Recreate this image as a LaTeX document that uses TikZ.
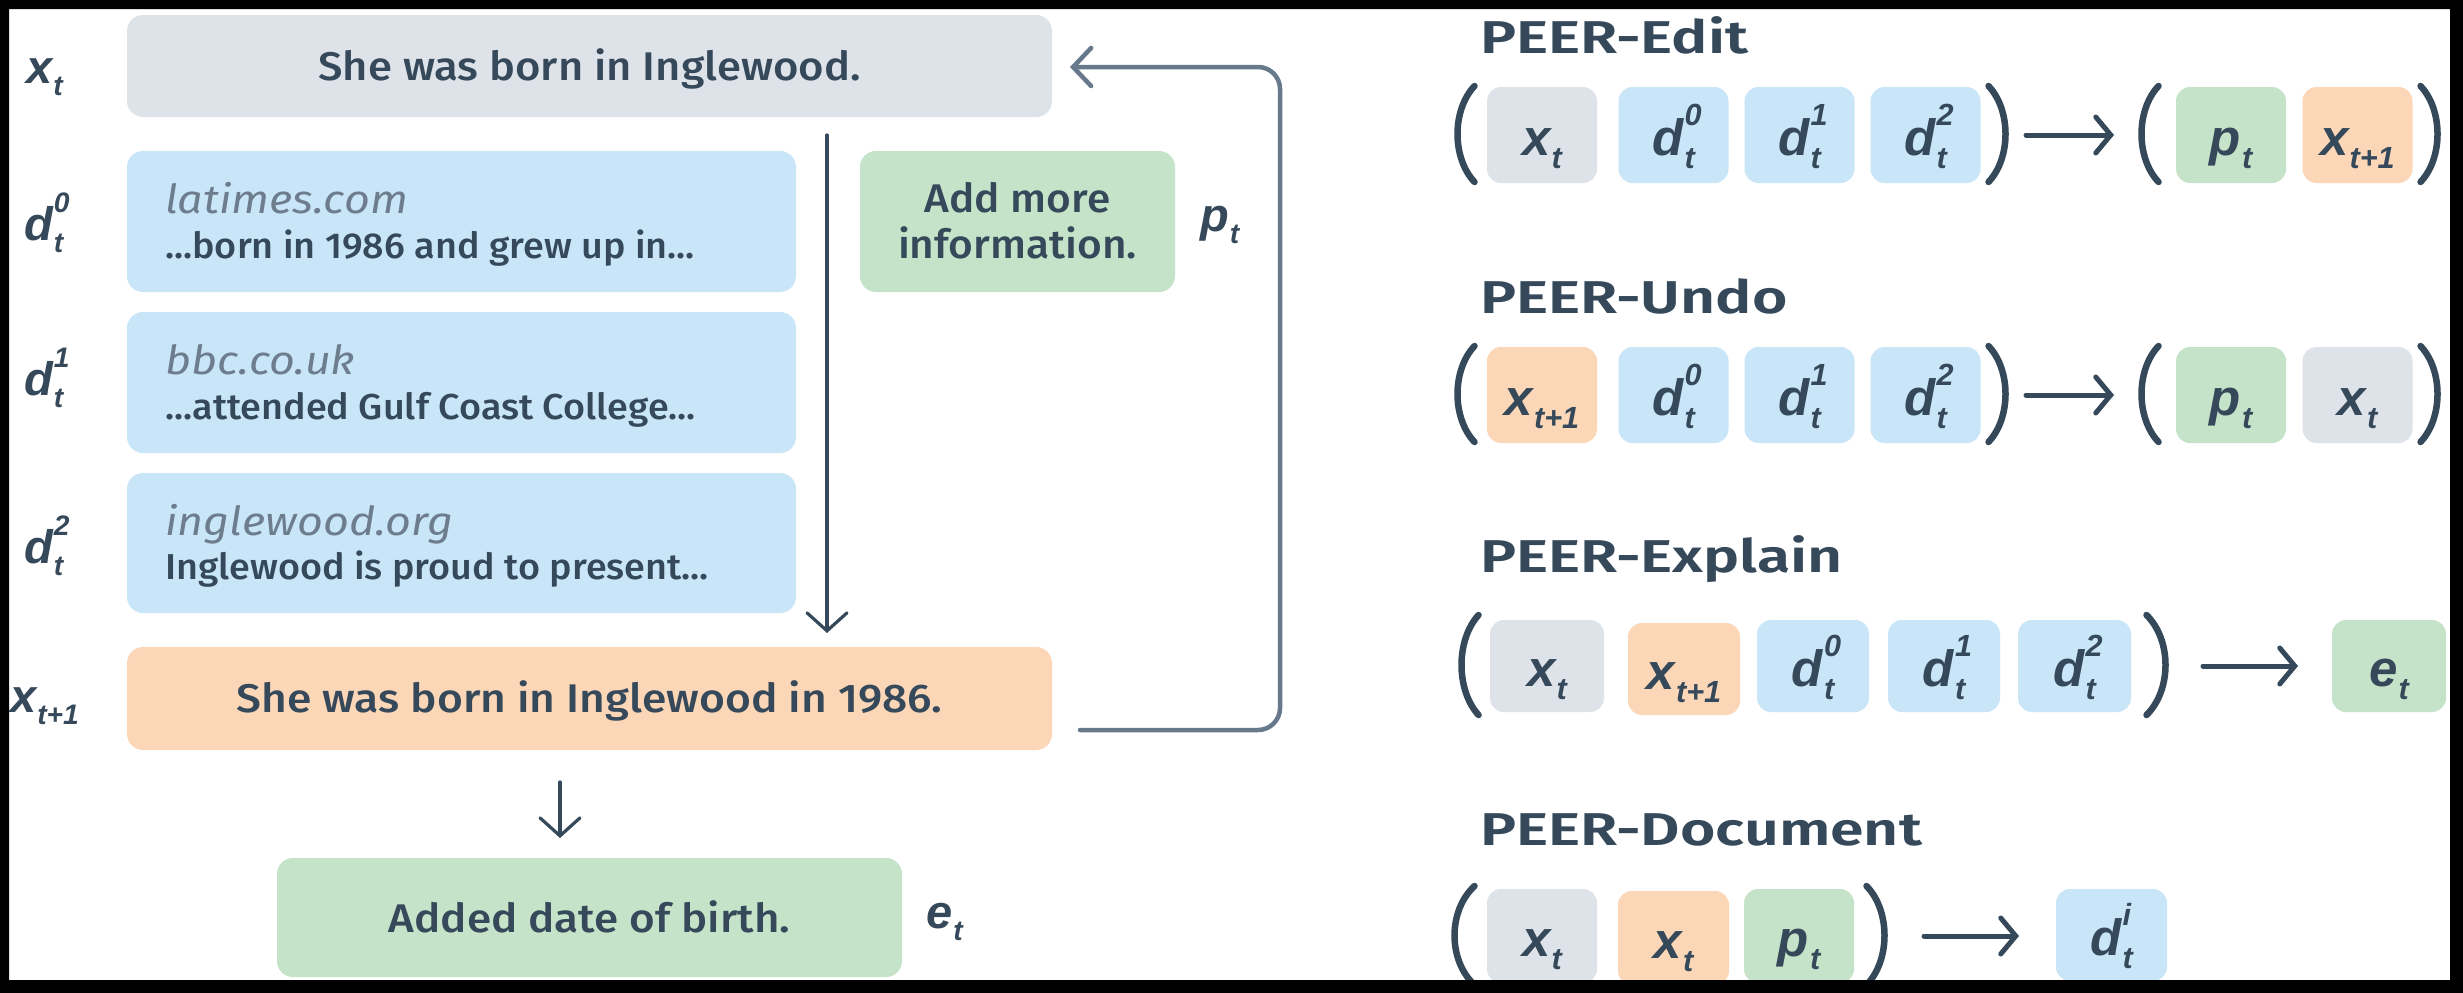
\documentclass[tikz,border=0pt]{standalone}
\usepackage{fontspec}
\usetikzlibrary{arrows.meta}
\setmainfont{Fira Sans}
\IfFontExistsTF{Fira Sans Medium}{\newfontfamily\bodyf{Fira Sans Medium}}{\newfontfamily\bodyf{Fira Sans}}
\newfontfamily\urlf{Fira Sans}
\IfFontExistsTF{Fira Sans SemiBold}{\newfontfamily\titlefa{Fira Sans SemiBold}\newcommand\titlef{\titlefa}}{\newcommand\titlef{\urlf\bfseries}}
\newfontfamily\symf{Liberation Sans}
\definecolor{ink}{HTML}{35495A}
\definecolor{urlc}{HTML}{6E7D8D}
\definecolor{loopc}{HTML}{67798B}
\definecolor{cgray}{HTML}{DEE3EA}
\definecolor{cblue}{HTML}{C9E6F9}
\definecolor{cgreen}{HTML}{C5E3C9}
\definecolor{corange}{HTML}{FBD7B8}
\newcommand\mysym[3]{{\symf\bfseries\itshape #1\kern0.02em\rlap{\raisebox{0.58em}{\scalebox{0.6}{#3}}}\raisebox{-0.26em}{\scalebox{0.6}{#2}}}}
\newcommand\wide[2]{\scalebox{#1}[1]{#2}}
\newcommand\lpar[4]{\draw[paren] ({#2-3.5},#3) .. controls ({#2-3.5-(#2-#1-7)/0.75},{#3+0.25*(#4-#3)}) and ({#2-3.5-(#2-#1-7)/0.75},{#4-0.25*(#4-#3)}) .. ({#2-3.5},#4);}
\newcommand\rpar[4]{\draw[paren] ({#1+3.5},#3) .. controls ({#1+3.5+(#2-#1-7)/0.75},{#3+0.25*(#4-#3)}) and ({#1+3.5+(#2-#1-7)/0.75},{#4-0.25*(#4-#3)}) .. ({#1+3.5},#4);}
\tikzset{
  lbox/.style={rounded corners=16pt, inner sep=0pt, draw=none},
  sbox/.style={rounded corners=14pt, inner sep=0pt, minimum width=110pt, minimum height=96pt,
     text height=40pt, text depth=0pt, text=ink, font=\fontsize{51}{54}\selectfont},
  lab/.style={inner sep=0pt, text=ink, font=\fontsize{47}{50}\selectfont},
  bodytxt/.style={inner sep=0pt, text=ink, font=\bodyf\fontsize{40}{46}\selectfont},
  doctxt/.style={inner sep=0pt, text=ink, font=\bodyf\fontsize{36}{44}\selectfont},
  urltxt/.style={inner sep=0pt, text=urlc, font=\urlf\itshape\fontsize{40}{46}\selectfont},
  ttl/.style={inner sep=0pt, text=ink, font=\titlef\fontsize{46}{50}\selectfont},
  paren/.style={draw=ink, line width=6.5pt, line cap=round},
  rarrow/.style={draw=ink, line width=5pt, line cap=round, -{Straight Barb[length=15pt,width=36pt,line cap=round]}},
  varrow/.style={draw=ink, line width=3.2pt, line cap=round, -{Straight Barb[length=18pt,width=40pt,line cap=round]}},
  fbarrow/.style={draw=loopc, line width=4.5pt, line cap=round, rounded corners=22pt, -{Straight Barb[length=18pt,width=38pt,line cap=round]}},
}
\begin{document}
\begin{tikzpicture}[x=1pt,y=-1pt]
\useasboundingbox (0,0) rectangle (2463,993);
\fill[white] (0,0) rectangle (2463,993);

% ---------- left panel ----------
\node[lbox, fill=cgray, minimum width=925pt, minimum height=102pt] (top) at (589.5,66) {};
\node[bodytxt, anchor=base] (toptxt) at (589.5,80) {\wide{1.09}{She was born in Inglewood.}};

\node[lbox, fill=cblue, minimum width=669pt, minimum height=141pt] (d0) at (461.5,221.5) {};
\node[urltxt, anchor=base west] (d0url) at (165,213) {\wide{1.12}{latimes.com}};
\node[doctxt, anchor=base west] (d0txt) at (165,258) {\wide{1.05}{...born in 1986 and grew up in...}};

\node[lbox, fill=cblue, minimum width=669pt, minimum height=141pt] (d1) at (461.5,382.5) {};
\node[urltxt, anchor=base west] (d1url) at (165,374) {\wide{1.12}{bbc.co.uk}};
\node[doctxt, anchor=base west] (d1txt) at (165,419) {\wide{1.05}{...attended Gulf Coast College...}};

\node[lbox, fill=cblue, minimum width=669pt, minimum height=140pt] (d2) at (461.5,543) {};
\node[urltxt, anchor=base west] (d2url) at (165,535) {\wide{1.12}{inglewood.org}};
\node[doctxt, anchor=base west] (d2txt) at (165,579) {\wide{1.05}{Inglewood is proud to present...}};

\node[lbox, fill=cgreen, minimum width=315pt, minimum height=141pt] (add) at (1017.5,221.5) {};
\node[bodytxt, anchor=base] (addtxt1) at (1017.5,212) {\wide{1.06}{Add more}};
\node[bodytxt, anchor=base] (addtxt2) at (1017.5,258) {\wide{1.06}{information.}};

\node[lbox, fill=corange, minimum width=925pt, minimum height=103pt] (xt1) at (589.5,698.5) {};
\node[bodytxt, anchor=base] (xt1txt) at (589.5,712) {\wide{1.11}{She was born in Inglewood in 1986.}};

\node[lbox, fill=cgreen, minimum width=625pt, minimum height=119pt] (et) at (589.5,917.5) {};
\node[bodytxt, anchor=base] (ettxt) at (589.5,932) {\wide{1.1}{Added date of birth.}};

% left labels
\node[lab, anchor=base west] (lxt) at (26,83) {\mysym{x}{t}{}};
\node[lab, anchor=base west] (ld0) at (24,240) {\mysym{d}{t}{0}};
\node[lab, anchor=base west] (ld1) at (24,395) {\mysym{d}{t}{1}};
\node[lab, anchor=base west] (ld2) at (24,563) {\mysym{d}{t}{2}};
\node[lab, anchor=base west] (lxt1) at (10,712) {\mysym{x}{t+1}{}};
\node[lab, anchor=base west] (lpt) at (1200,231) {\mysym{p}{t}{}};
\node[lab, anchor=base west] (let) at (926,928) {\mysym{e}{t}{}};

% arrows
\coordinate (va1) at (827,135);
\coordinate (va2) at (827,633);
\draw[varrow] (va1) -- (va2);
\coordinate (ea1) at (560,782);
\coordinate (ea2) at (560,838);
\draw[varrow] (ea1) -- (ea2);
\coordinate (fb1) at (1080,730);
\coordinate (fbc) at (1280,400);
\coordinate (fb2) at (1070,67);
\draw[fbarrow] (fb1) -| (fbc) |- (fb2);

% ---------- right panel ----------
\node[ttl, anchor=base west] (t1) at (1480,53) {\wide{1.32}{PEER-Edit}};
\node[ttl, anchor=base west] (t2) at (1480,313) {\wide{1.32}{PEER-Undo}};
\node[ttl, anchor=base west] (t3) at (1480,572) {\wide{1.32}{PEER-Explain}};
\node[ttl, anchor=base west] (t4) at (1480,845) {\wide{1.32}{PEER-Document}};

% row 1
\lpar{1454}{1478}{86}{182}
\node[sbox, fill=cgray] (r1a) at (1542,135) {\mysym{x}{t}{}};
\node[sbox, fill=cblue] (r1b) at (1673.5,135) {\mysym{d}{t}{0}};
\node[sbox, fill=cblue] (r1c) at (1799.5,135) {\mysym{d}{t}{1}};
\node[sbox, fill=cblue] (r1d) at (1925.5,135) {\mysym{d}{t}{2}};
\rpar{1985}{2009}{86}{182}
\coordinate (a1s) at (2026,135); \coordinate (a1e) at (2114,135);
\draw[rarrow] (a1s) -- (a1e);
\lpar{2138}{2162}{86}{182}
\node[sbox, fill=cgreen] (r1e) at (2231,135) {\mysym{p}{t}{}};
\node[sbox, fill=corange] (r1f) at (2357.5,135) {\mysym{x}{t+1}{}};
\rpar{2417}{2441}{86}{182}

% row 2
\lpar{1454}{1478}{346}{442}
\node[sbox, fill=corange] (r2a) at (1542,395) {\mysym{x}{t+1}{}};
\node[sbox, fill=cblue] (r2b) at (1673.5,395) {\mysym{d}{t}{0}};
\node[sbox, fill=cblue] (r2c) at (1799.5,395) {\mysym{d}{t}{1}};
\node[sbox, fill=cblue] (r2d) at (1925.5,395) {\mysym{d}{t}{2}};
\rpar{1985}{2009}{346}{442}
\coordinate (a2s) at (2026,395); \coordinate (a2e) at (2114,395);
\draw[rarrow] (a2s) -- (a2e);
\lpar{2138}{2162}{346}{442}
\node[sbox, fill=cgreen] (r2e) at (2231,395) {\mysym{p}{t}{}};
\node[sbox, fill=cgray] (r2f) at (2357.5,395) {\mysym{x}{t}{}};
\rpar{2417}{2441}{346}{442}

% row 3
\lpar{1458}{1482}{615}{715}
\node[sbox, fill=cgray, minimum width=114pt, minimum height=92pt] (r3a) at (1547,666) {\mysym{x}{t}{}};
\node[sbox, fill=corange, minimum width=112pt, minimum height=92pt] (r3b) at (1684,669) {\mysym{x}{t+1}{}};
\node[sbox, fill=cblue, minimum width=112pt, minimum height=92pt] (r3c) at (1813,666) {\mysym{d}{t}{0}};
\node[sbox, fill=cblue, minimum width=112pt, minimum height=92pt] (r3d) at (1944,666) {\mysym{d}{t}{1}};
\node[sbox, fill=cblue, minimum width=113pt, minimum height=92pt] (r3e) at (2074.5,666) {\mysym{d}{t}{2}};
\rpar{2143}{2169}{615}{715}
\coordinate (a3s) at (2203,666); \coordinate (a3e) at (2298,666);
\draw[rarrow] (a3s) -- (a3e);
\node[sbox, fill=cgreen, minimum width=114pt, minimum height=92pt] (r3f) at (2389,666) {\mysym{e}{t}{}};

% row 4
\lpar{1451}{1478}{886}{985}
\node[sbox, fill=cgray, minimum height=94pt] (r4a) at (1542,936) {\mysym{x}{t}{}};
\node[sbox, fill=corange, minimum width=111pt, minimum height=94pt] (r4b) at (1673.5,938) {\mysym{x}{t}{}};
\node[sbox, fill=cgreen, minimum height=94pt] (r4c) at (1799,936) {\mysym{p}{t}{}};
\rpar{1863}{1888}{886}{985}
\coordinate (a4s) at (1924,936); \coordinate (a4e) at (2019,936);
\draw[rarrow] (a4s) -- (a4e);
\node[sbox, fill=cblue, minimum width=111pt, minimum height=92pt] (r4d) at (2111.5,935) {\mysym{d}{t}{i}};

% frame
\fill[black, even odd rule] (0,0) rectangle (2463,993) (9,9) rectangle (2450,980);
\end{tikzpicture}
\end{document}
